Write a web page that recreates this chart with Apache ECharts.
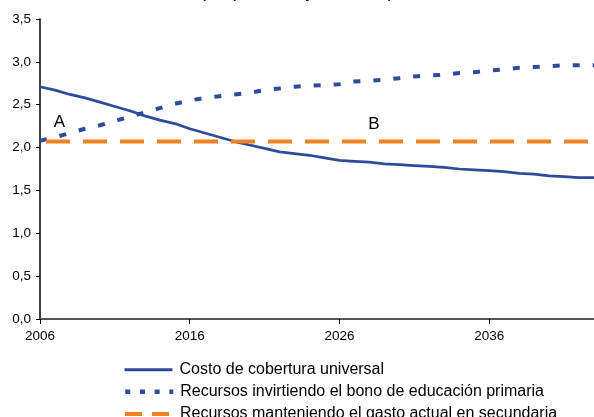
<!DOCTYPE html>
<html>
<head>
<meta charset="utf-8">
<script src="https://cdn.jsdelivr.net/npm/echarts@6/dist/echarts.min.js"></script>
<style>html,body{margin:0;padding:0;background:#fff}#c{width:594px;height:417px}</style>
</head>
<body>
<div id="c"></div>
<script>
const years = [];
for (let y = 2006; y <= 2043; y++) years.push(y);
const costoCobertura = [2.71,2.67,2.62,2.58,2.53,2.48,2.43,2.37,2.32,2.28,2.22,2.17,2.12,2.07,2.03,1.99,1.95,1.93,1.91,1.88,1.85,1.84,1.83,1.81,1.80,1.79,1.78,1.77,1.75,1.74,1.73,1.72,1.70,1.69,1.67,1.66,1.65,1.65];
const recursosBono = [2.08,2.12,2.17,2.22,2.26,2.31,2.36,2.41,2.46,2.51,2.55,2.58,2.60,2.62,2.64,2.67,2.69,2.71,2.72,2.73,2.74,2.77,2.78,2.79,2.81,2.83,2.84,2.85,2.87,2.88,2.90,2.91,2.93,2.94,2.95,2.96,2.96,2.96];
const recursosGasto = years.map(() => 2.07);
const xTickLabels = [2006, 2016, 2026, 2036];
const seriesNames = ['Costo de cobertura universal','Recursos invirtiendo el bono de educación primaria','Recursos manteniendo el gasto actual en secundaria'];
const annotations = [{text:'A', year:2007.3, value:2.29},{text:'B', year:2028.3, value:2.27}];
const titleText = '(en porcentaje del PIB)';

const pair = arr => years.map((y,i) => [y, arr[i]]);
const blue = '#2E4A9B', orange = '#F08221';
const FONT = 'Liberation Sans, Arial, Helvetica, sans-serif';
const legendTops = [356.8, 378.8, 401];
const legendLines = [
  {color:blue, width:3, type:'solid'},
  {color:blue, width:4.5, type:[5,9.7], cap:'butt', dashOffset:0},
  {color:orange, width:4, type:[17,10], cap:'butt', dashOffset:0}
];

const chart = echarts.init(document.getElementById('c'), null, {renderer:'canvas'});
chart.setOption({
  animation:false,
  textStyle:{fontFamily:FONT},
  graphic:[{type:'text', left:'center', top:-18, style:{text:titleText, fontSize:19, fontFamily:FONT, fill:'#000'}}],
  grid:{left:40, right:0, top:19, bottom:98, containLabel:false},
  xAxis:{type:'value', min:2006, max:2043,
    axisLine:{lineStyle:{color:'#555', width:2}},
    axisTick:{show:true, customValues:xTickLabels, length:5, lineStyle:{color:'#000', width:1}},
    axisLabel:{customValues:xTickLabels, color:'#000', fontSize:13.5, margin:10, formatter:v=>String(v)},
    splitLine:{show:false}},
  yAxis:{type:'value', min:0, max:3.5, interval:0.5,
    axisLine:{show:true, lineStyle:{color:'#000', width:1.5}},
    axisTick:{show:true, length:4, lineStyle:{color:'#000'}},
    axisLabel:{color:'#000', fontSize:13.5, margin:9, formatter:v=>v.toFixed(1).replace('.',',')},
    splitLine:{show:false}},
  legend: seriesNames.map((n,i)=>({orient:'vertical', left:118, top:legendTops[i], itemWidth:48, itemHeight:14,
    itemStyle:{opacity:0},
    lineStyle:legendLines[i],
    textStyle:{fontSize:16, color:'#000', fontFamily:FONT, padding:[0,0,0,2]},
    data:[n]})),
  series:[
    {name:seriesNames[0], type:'line', data:pair(costoCobertura), symbol:'none', smooth:false,
      lineStyle:{color:blue, width:2.7}, itemStyle:{color:blue}},
    {name:seriesNames[1], type:'line', data:pair(recursosBono), symbol:'none',
      lineStyle:{color:blue, width:4, type:[7,13], cap:'butt'}, itemStyle:{color:blue}},
    {name:seriesNames[2], type:'line', data:pair(recursosGasto), symbol:'none',
      lineStyle:{color:orange, width:4, type:[24,13], dashOffset:31, cap:'butt'}, itemStyle:{color:orange},
      markPoint:{symbol:'circle', symbolSize:0, silent:true,
        label:{show:true, position:'inside', color:'#000', fontSize:17, fontFamily:FONT, formatter:p=>p.name},
        data:annotations.map(a=>({name:a.text, coord:[a.year, a.value]}))}}
  ]
});
</script>
</body>
</html>
